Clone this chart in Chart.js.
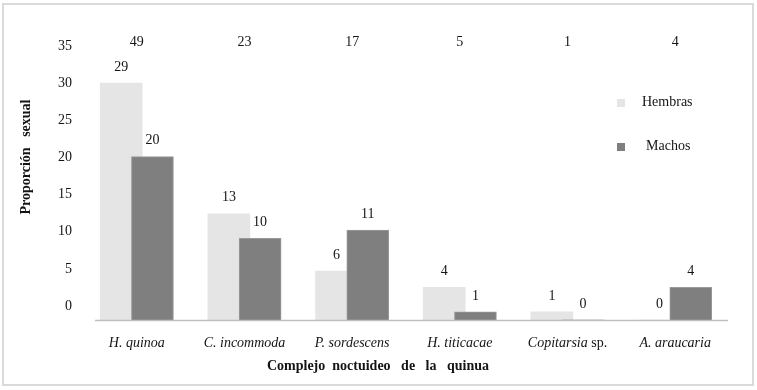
<!DOCTYPE html>
<html>
<head>
<meta charset="utf-8">
<script src="https://cdn.jsdelivr.net/npm/chart.js@4/dist/chart.umd.min.js"></script>
<style>
  body { margin: 0; background: #fff; }
  #wrap { position: relative; width: 757px; height: 390px; }
  #frame {
    position: absolute; left: 2px; top: 3px; width: 752px; height: 383px;
    box-sizing: border-box; border: 2px solid #dadada;
  }
  canvas { position: absolute; left: 0; top: 0; }
</style>
</head>
<body>
<div id="wrap">
  <div id="frame"></div>
  <canvas id="chart" width="757" height="390"></canvas>
</div>
<script>
// Data
const categories = ["H. quinoa", "C. incommoda", "P. sordescens", "H. titicacae", "Copitarsia sp.", "A. araucaria"];
const hembras = [29, 13, 6, 4, 1, 0];
const machos = [20, 10, 11, 1, 0, 4];
const totals = [49, 23, 17, 5, 1, 4];
const yTickLabels = [0, 5, 10, 15, 20, 25, 30, 35];

const FONT = "'Liberation Serif', 'Times New Roman', serif";
const TEXT = "#141414";
const HEMBRAS_COLOR = "#e5e5e5";
const MACHOS_COLOR = "#7f7f7f";
const SHIFT = 0.145; // bars overlap a little inside each group

Chart.defaults.font.family = FONT;
Chart.defaults.font.size = 14;
Chart.defaults.color = TEXT;

// value labels, totals, category labels, titles, legend, baseline
const annotations = {
  id: "annotations",
  afterDatasetsDraw(chart) {
    const { ctx, chartArea, scales } = chart;
    const x = scales.x;
    ctx.save();

    // baseline
    ctx.strokeStyle = "#bfbfbf";
    ctx.lineWidth = 1.5;
    ctx.beginPath();
    ctx.moveTo(chartArea.left + 12, chartArea.bottom + 0.5);
    ctx.lineTo(chartArea.right - 1, chartArea.bottom + 0.5);
    ctx.stroke();

    ctx.fillStyle = TEXT;
    ctx.textAlign = "center";
    ctx.textBaseline = "middle";
    ctx.font = "14px " + FONT;

    // labels above bars
    chart.data.datasets.forEach((ds, di) => {
      const meta = chart.getDatasetMeta(di);
      meta.data.forEach((bar, i) => {
        ctx.fillText(String(ds.data[i].y), bar.x, bar.y - 16);
      });
    });

    // totals row
    totals.forEach((t, i) => {
      ctx.fillText(String(t), x.getPixelForValue(i), chartArea.top + 8);
    });

    // category labels (genus in italics, "sp." upright)
    const ly = chartArea.bottom + 23;
    categories.forEach((c, i) => {
      const cx = x.getPixelForValue(i);
      if (c.endsWith(" sp.")) {
        const genus = c.slice(0, -4);
        ctx.font = "italic 14px " + FONT;
        const w1 = ctx.measureText(genus).width;
        ctx.font = "14px " + FONT;
        const w2 = ctx.measureText(" sp.").width;
        const start = cx - (w1 + w2) / 2;
        ctx.textAlign = "left";
        ctx.font = "italic 14px " + FONT;
        ctx.fillText(genus, start, ly);
        ctx.font = "14px " + FONT;
        ctx.fillText(" sp.", start + w1, ly);
        ctx.textAlign = "center";
      } else {
        ctx.font = "italic 14px " + FONT;
        ctx.fillText(c, cx, ly);
      }
    });

    // axis titles
    ctx.font = "bold 14px " + FONT;
    ctx.fillText("Complejo  noctuideo   de   la   quinua",
      (chartArea.left + chartArea.right) / 2 - 28, chartArea.bottom + 46);
    ctx.save();
    ctx.translate(26, (chartArea.top + chartArea.bottom) / 2 - 20);
    ctx.rotate(-Math.PI / 2);
    ctx.fillText("Proporción   sexual", 0, 0);
    ctx.restore();

    // legend inside plot
    const lx = chartArea.right - 112;
    ctx.font = "14px " + FONT;
    ctx.textAlign = "left";
    ctx.fillStyle = HEMBRAS_COLOR;
    ctx.fillRect(lx, chartArea.top + 65, 8, 8);
    ctx.fillStyle = MACHOS_COLOR;
    ctx.fillRect(lx, chartArea.top + 109, 8, 8);
    ctx.fillStyle = TEXT;
    ctx.fillText("Hembras", lx + 25, chartArea.top + 68);
    ctx.fillText("Machos", lx + 29, chartArea.top + 112);

    ctx.restore();
  },
};

new Chart(document.getElementById("chart").getContext("2d"), {
  type: "bar",
  data: {
    datasets: [
      {
        label: "Hembras",
        data: hembras.map((v, i) => ({ x: i - SHIFT, y: v })),
        backgroundColor: HEMBRAS_COLOR,
        order: 2,
      },
      {
        label: "Machos",
        data: machos.map((v, i) => ({ x: i + SHIFT, y: v })),
        backgroundColor: MACHOS_COLOR,
        borderColor: "#9a9a9a",
        borderWidth: (c) => (c.raw && c.raw.y > 0 ? 1 : 0),
        order: 1,
      },
    ],
  },
  options: {
    responsive: false,
    animation: false,
    grouped: false,
    barThickness: 42,
    layout: { padding: { top: 34, bottom: 70, right: 28, left: 0 } },
    plugins: {
      legend: { display: false },
      tooltip: { enabled: false },
    },
    scales: {
      x: { type: "linear", display: false, offset: false, min: -0.5, max: 5.5 },
      y: { display: false, min: 0, max: 35 },
      // tick labels in the source sit slightly off the bar scale
      yt: {
        position: "left",
        min: -1.885,
        max: 36.615,
        grid: { display: false, drawTicks: false },
        border: { display: false },
        ticks: { padding: 11, color: TEXT, font: { size: 14 } },
        afterBuildTicks: (s) => {
          s.ticks = yTickLabels.map((v) => ({ value: v }));
        },
        afterFit: (s) => {
          s.width = 83;
        },
      },
    },
  },
  plugins: [annotations],
});
</script>
</body>
</html>
